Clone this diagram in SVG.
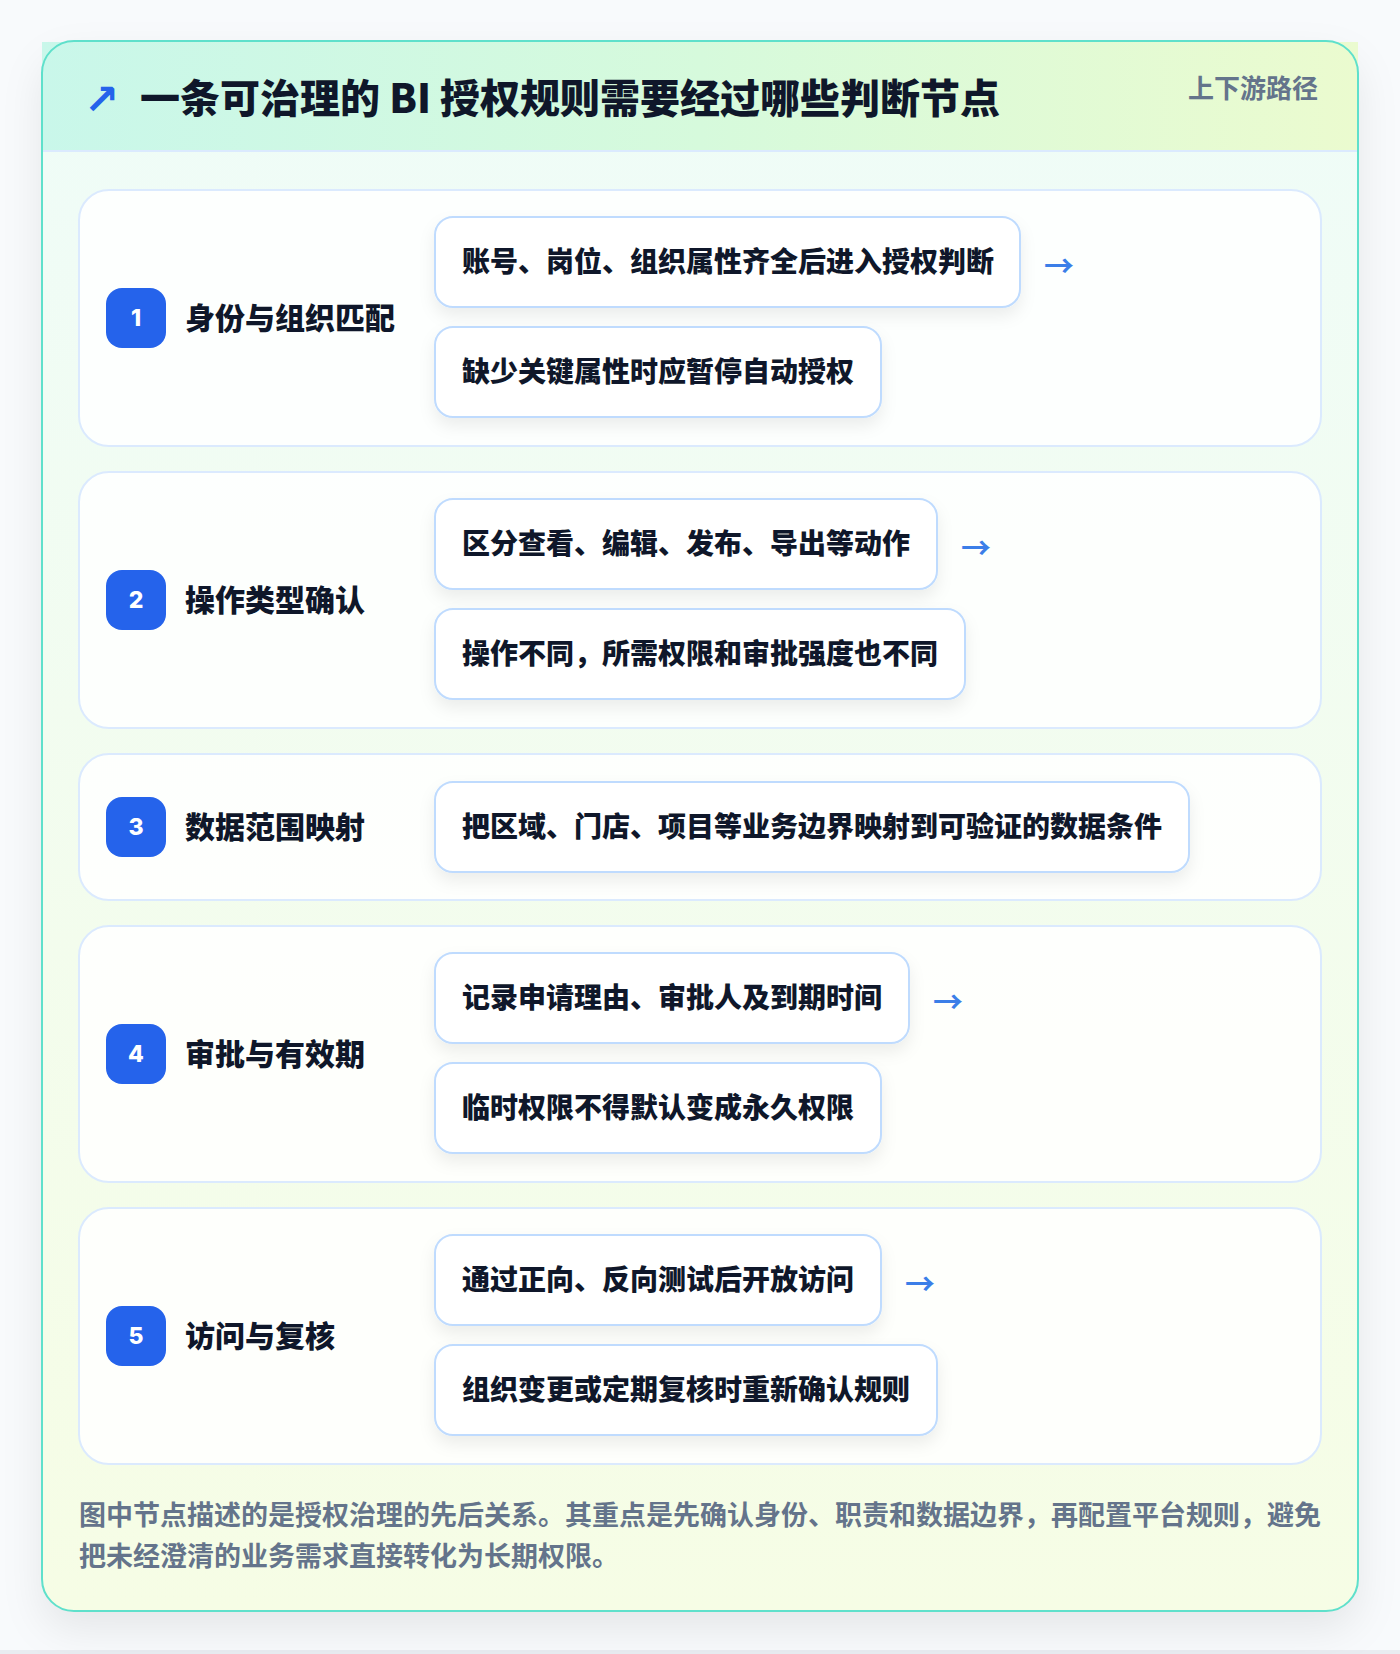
<svg xmlns="http://www.w3.org/2000/svg" width="1400" height="1654" viewBox="0 0 1400 1654">
<defs>
  <linearGradient id="hdr" x1="0" y1="0" x2="1" y2="0">
    <stop offset="0" stop-color="#c9f7ea"/>
    <stop offset="0.5" stop-color="#d6fadc"/>
    <stop offset="1" stop-color="#ebfbcf"/>
  </linearGradient>
  <linearGradient id="body" x1="0" y1="0" x2="0" y2="1">
    <stop offset="0" stop-color="#effcf8"/>
    <stop offset="1" stop-color="#f6fde5"/>
  </linearGradient>
  <filter id="cardShadow" x="-10%" y="-10%" width="120%" height="120%">
    <feDropShadow dx="0" dy="18" stdDeviation="20" flood-color="#0f172a" flood-opacity="0.08"/>
  </filter>
  <filter id="itemShadow" x="-10%" y="-20%" width="120%" height="160%">
    <feDropShadow dx="0" dy="8" stdDeviation="8" flood-color="#0f172a" flood-opacity="0.07"/>
  </filter>
  <style>
    .cjk { font-family: "Noto Sans CJK SC", "Noto Sans", sans-serif; }
    .title { font-size: 40px; font-weight: 900; fill: #0f172a; }
    .tag { font-size: 26px; font-weight: 700; fill: #64748b; }
    .section { fill: #ffffff; fill-opacity: 0.85; stroke: #dbeafe; stroke-width: 2; }
    .badge { fill: #2563eb; }
    .num { font-family: "Inter", "Liberation Sans", sans-serif; font-size: 23px; font-weight: 800; fill: #ffffff; }
    .label { font-size: 30px; font-weight: 800; fill: #0f172a; }
    .item { fill: #ffffff; stroke: #bfdbfe; stroke-width: 2; filter: url(#itemShadow); }
    .itext { font-size: 28px; font-weight: 800; fill: #0f172a; }
    .arrow { font-family: "Noto Sans CJK SC", sans-serif; font-size: 30px; font-weight: 700; fill: #3b7ee8; }
    .foot { font-size: 27px; font-weight: 700; fill: #64748b; }
  </style>
</defs>
<rect x="0" y="0" width="1400" height="1654" fill="#f8fafc"/>
<rect x="0" y="1650" width="1400" height="4" fill="#e9ecf1"/>
<g id="card">
  <rect x="42" y="41" width="1316" height="1570" rx="32" fill="url(#body)" filter="url(#cardShadow)"/>
  <rect x="42" y="42" width="1316" height="109" fill="url(#hdr)"/>
  <line x1="42" y1="151" x2="1358" y2="151" stroke="#dbeafe" stroke-width="2"/>
  <rect x="42" y="41" width="1316" height="1570" rx="32" fill="none" stroke="#5fe0cb" stroke-width="2"/>
  <text x="84" y="114" font-family="DejaVu Sans, sans-serif" font-weight="bold" font-size="42" fill="#2563eb">↗</text>
  <text class="cjk title" x="140" y="113">一条可治理的 BI 授权规则需要经过哪些判断节点</text>
  <text class="cjk tag" x="1318" y="98" text-anchor="end">上下游路径</text>
</g>
<g id="node-1">
  <rect class="section" x="79" y="190" width="1242" height="256" rx="30"/>
  <rect class="badge" x="106" y="288" width="60" height="60" rx="16"/>
  <text class="num" x="136" y="326" text-anchor="middle">1</text>
  <text class="cjk label" x="185" y="329">身份与组织匹配</text>
  <rect class="item" x="435" y="217" width="585" height="90" rx="18"/>
  <text class="cjk itext" x="462" y="272">账号、岗位、组织属性齐全后进入授权判断</text>
  <rect class="item" x="435" y="327" width="446" height="90" rx="18"/>
  <text class="cjk itext" x="462" y="382">缺少关键属性时应暂停自动授权</text>
</g>
<g id="node-2">
  <rect class="section" x="79" y="472" width="1242" height="256" rx="30"/>
  <rect class="badge" x="106" y="570" width="60" height="60" rx="16"/>
  <text class="num" x="136" y="608" text-anchor="middle">2</text>
  <text class="cjk label" x="185" y="611">操作类型确认</text>
  <rect class="item" x="435" y="499" width="502" height="90" rx="18"/>
  <text class="cjk itext" x="462" y="554">区分查看、编辑、发布、导出等动作</text>
  <rect class="item" x="435" y="609" width="530" height="90" rx="18"/>
  <text class="cjk itext" x="462" y="664">操作不同，所需权限和审批强度也不同</text>
</g>
<g id="node-3">
  <rect class="section" x="79" y="754" width="1242" height="146" rx="30"/>
  <rect class="badge" x="106" y="797" width="60" height="60" rx="16"/>
  <text class="num" x="136" y="835" text-anchor="middle">3</text>
  <text class="cjk label" x="185" y="838">数据范围映射</text>
  <rect class="item" x="435" y="782" width="754" height="90" rx="18"/>
  <text class="cjk itext" x="462" y="837">把区域、门店、项目等业务边界映射到可验证的数据条件</text>
</g>
<g id="node-4">
  <rect class="section" x="79" y="926" width="1242" height="256" rx="30"/>
  <rect class="badge" x="106" y="1024" width="60" height="60" rx="16"/>
  <text class="num" x="136" y="1062" text-anchor="middle">4</text>
  <text class="cjk label" x="185" y="1065">审批与有效期</text>
  <rect class="item" x="435" y="953" width="474" height="90" rx="18"/>
  <text class="cjk itext" x="462" y="1008">记录申请理由、审批人及到期时间</text>
  <rect class="item" x="435" y="1063" width="446" height="90" rx="18"/>
  <text class="cjk itext" x="462" y="1118">临时权限不得默认变成永久权限</text>
</g>
<g id="node-5">
  <rect class="section" x="79" y="1208" width="1242" height="256" rx="30"/>
  <rect class="badge" x="106" y="1306" width="60" height="60" rx="16"/>
  <text class="num" x="136" y="1344" text-anchor="middle">5</text>
  <text class="cjk label" x="185" y="1347">访问与复核</text>
  <rect class="item" x="435" y="1235" width="446" height="90" rx="18"/>
  <text class="cjk itext" x="462" y="1290">通过正向、反向测试后开放访问</text>
  <rect class="item" x="435" y="1345" width="502" height="90" rx="18"/>
  <text class="cjk itext" x="462" y="1400">组织变更或定期复核时重新确认规则</text>
</g>
<g id="connectors">
  <text class="arrow" x="1044" y="277">→</text>
  <text class="arrow" x="961" y="559">→</text>
  <text class="arrow" x="933" y="1013">→</text>
  <text class="arrow" x="905" y="1295">→</text>
</g>
<g id="footer">
  <text class="cjk foot" x="79" y="1525">图中节点描述的是授权治理的先后关系。其重点是先确认身份、职责和数据边界，再配置平台规则，避免</text>
  <text class="cjk foot" x="79" y="1566">把未经澄清的业务需求直接转化为长期权限。</text>
</g>
</svg>
